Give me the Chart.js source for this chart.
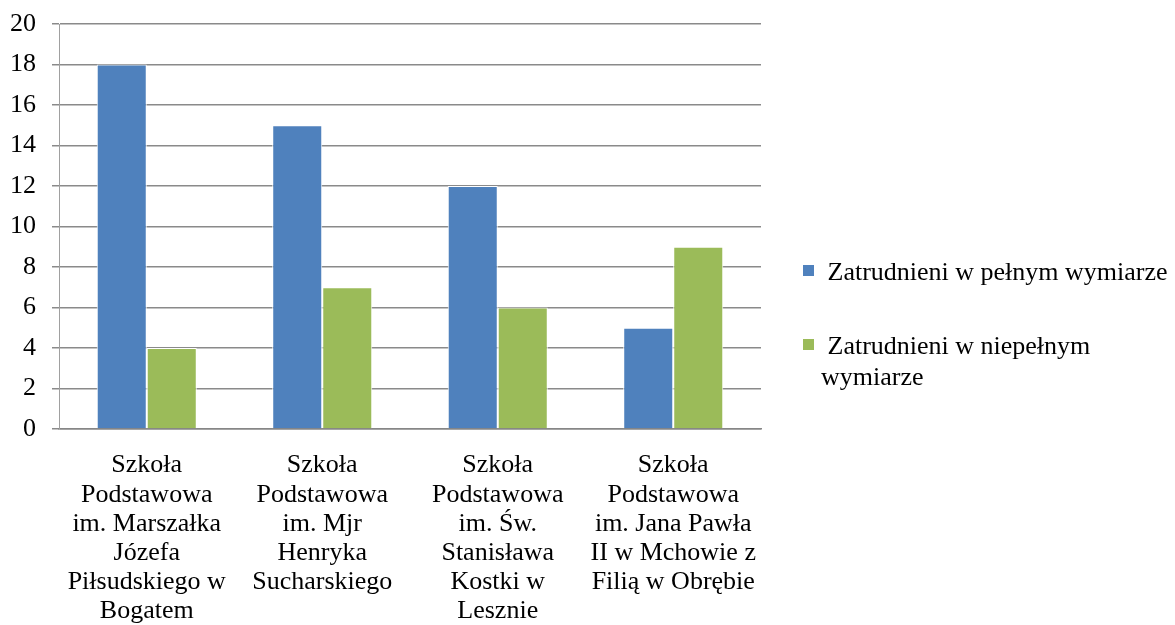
<!DOCTYPE html>
<html>
<head>
<meta charset="utf-8">
<script src="https://cdn.jsdelivr.net/npm/chart.js@4/dist/chart.umd.min.js"></script>
<style>
  html, body { margin: 0; padding: 0; background: #fff; }
  #wrap { width: 1175px; height: 625px; position: relative; }
</style>
</head>
<body>
<div id="wrap"><canvas id="chart"></canvas></div>
<script>
const categories = [
    ['Szkoła', 'Podstawowa', 'im. Marszałka', 'Józefa', 'Piłsudskiego w', 'Bogatem'],
    ['Szkoła', 'Podstawowa', 'im. Mjr', 'Henryka', 'Sucharskiego'],
    ['Szkoła', 'Podstawowa', 'im. Św.', 'Stanisława', 'Kostki w', 'Lesznie'],
    ['Szkoła', 'Podstawowa', 'im. Jana Pawła', 'II w Mchowie z', 'Filią w Obrębie']
];
const fullTime = [18, 15, 12, 5];
const partTime = [4, 7, 6, 9];
const seriesNames = ['Zatrudnieni w pełnym wymiarze', 'Zatrudnieni w niepełnym wymiarze'];

const serif = "'Liberation Serif', 'Times New Roman', serif";
const fontSize = 26;

// legend drawn by hand so the long label can wrap like in Excel
const sideLegend = {
    id: 'sideLegend',
    afterDraw(chart) {
        const ctx = chart.ctx;
        const rows = [273, 347];
        ctx.save();
        ctx.font = fontSize + 'px ' + serif;
        ctx.textBaseline = 'middle';
        chart.data.datasets.forEach((ds, i) => {
            const y = rows[i];
            ctx.fillStyle = ds.backgroundColor;
            ctx.fillRect(803, y - 8, 11, 11);
            ctx.fillStyle = '#000';
            const words = (' ' + ds.label).split(' ');
            let lines = [], cur = '';
            words.forEach((w, k) => {
                const test = k === 0 ? w : cur + ' ' + w;
                if (ctx.measureText(test).width > 360 && cur) {
                    lines.push(cur);
                    cur = w;
                } else {
                    cur = test;
                }
            });
            lines.push(cur);
            lines.forEach((ln, j) => {
                ctx.fillText(ln, 821, y + j * 31);
            });
        });
        ctx.restore();
    }
};

new Chart(document.getElementById('chart'), {
    type: 'bar',
    data: {
        labels: categories,
        datasets: [
            {
                label: seriesNames[0],
                data: fullTime,
                backgroundColor: '#4F81BD',
                borderColor: '#ffffff',
                borderWidth: 1
            },
            {
                label: seriesNames[1],
                data: partTime,
                backgroundColor: '#9BBB59',
                borderColor: '#ffffff',
                borderWidth: 1
            }
        ]
    },
    options: {
        responsive: true,
        maintainAspectRatio: false,
        animation: false,
        layout: { padding: { left: 0, right: 414, top: 0, bottom: 0 } },
        plugins: {
            legend: { display: false },
            tooltip: { enabled: false }
        },
        datasets: {
            bar: { categoryPercentage: 0.57, barPercentage: 1.0 }
        },
        scales: {
            x: {
                grid: { display: false, drawTicks: false },
                border: { display: true, color: '#868686', width: 1.5 },
                ticks: {
                    color: '#000',
                    font: { family: serif, size: fontSize, lineHeight: 1.12 },
                    maxRotation: 0,
                    autoSkip: false,
                    padding: 22
                },
                afterFit: (scale) => { scale.height = 196; }
            },
            y: {
                min: 0,
                max: 20,
                ticks: {
                    stepSize: 2,
                    color: '#000',
                    font: { family: serif, size: fontSize },
                    padding: 16
                },
                grid: { color: '#8a8a8a', lineWidth: 1.5, tickLength: 7 },
                border: { color: '#a0a0a0', width: 1 },
                afterFit: (scale) => { scale.width = 59; scale.paddingTop = 24; }
            }
        }
    },
    plugins: [sideLegend]
});
</script>
</body>
</html>
